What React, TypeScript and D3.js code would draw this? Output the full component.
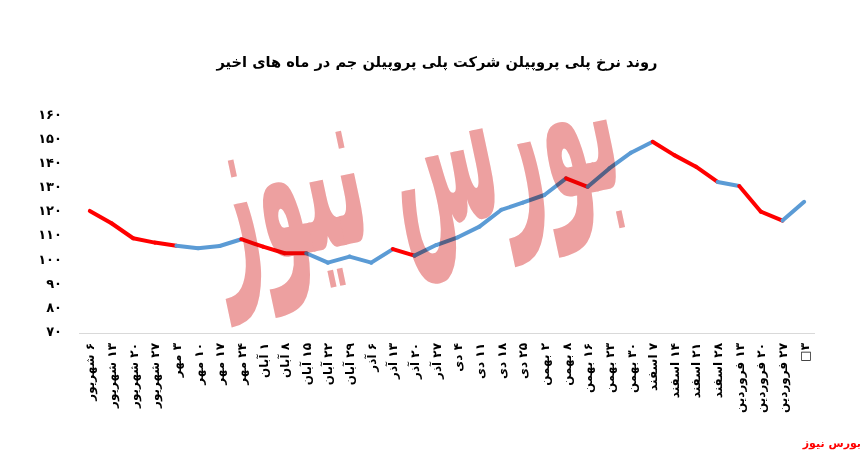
import React, { useRef, useEffect } from 'react'
import * as d3 from 'd3'

// weekly dates (Persian calendar)
const categories = [
  '۶ شهریور', '۱۳ شهریور', '۲۰ شهریور', '۲۷ شهریور',
  '۳ مهر', '۱۰ مهر', '۱۷ مهر', '۲۴ مهر',
  '۱ آبان', '۸ آبان', '۱۵ آبان', '۲۲ آبان', '۲۹ آبان',
  '۶ آذر', '۱۳ آذر', '۲۰ آذر', '۲۷ آذر',
  '۴ دی', '۱۱ دی', '۱۸ دی', '۲۵ دی',
  '۲ بهمن', '۸ بهمن', '۱۶ بهمن', '۲۳ بهمن', '۳۰ بهمن',
  '۷ اسفند', '۱۴ اسفند', '۲۱ اسفند', '۲۸ اسفند',
  '۱۳ فروردین', '۲۰ فروردین', '۲۷ فروردین', '۳□',
]

const prices = [
  120.3, 115.2, 109, 107.2, 105.9, 104.9, 105.8, 108.6,
  105.5, 102.8, 102.8, 98.9, 101.4, 98.9, 104.5, 101.8,
  106.2, 109.4, 113.8, 120.7, 123.7, 126.9, 133.8, 130.3,
  137.9, 144.4, 148.9, 143.4, 138.6, 132.3, 130.6, 120,
  116.3, 124.1,
]

// highlighted weeks: 1 = red segment, 0 = blue segment
const fallSegments = [
  1, 1, 1, 1, 0, 0, 0, 1, 1, 1, 0, 0, 0, 0, 1, 0, 0,
  0, 0, 0, 0, 0, 1, 0, 0, 0, 1, 1, 1, 0, 1, 1, 0,
]

const yTicks = [70, 80, 90, 100, 110, 120, 130, 140, 150, 160]

const title = 'روند نرخ پلی پروپیلن شرکت پلی پروپیلن جم در ماه های اخیر'
const brand = 'بورس نیوز'

const toFa = (s: string | number) => String(s).replace(/\d/g, d => '۰۱۲۳۴۵۶۷۸۹'[+d])

const W = 867
const H = 456
const FONT = '"DejaVu Sans", sans-serif'

export default function App() {
  const svgRef = useRef<SVGSVGElement>(null)

  useEffect(() => {
    if (!svgRef.current) return
    const svg = d3.select(svgRef.current)
    svg.selectAll('*').remove()

    const left = 79
    const right = 815
    const yTop = 115
    const yBottom = 332.5

    const x = d3.scaleBand().domain(categories).range([left, right])
    const y = d3.scaleLinear().domain([70, 160]).range([yBottom, yTop])
    const cx = (i: number) => (x(categories[i]) || 0) + x.bandwidth() / 2

    // title
    svg
      .append('text')
      .attr('x', 437)
      .attr('y', 63)
      .attr('text-anchor', 'middle')
      .attr('dominant-baseline', 'middle')
      .style('font-family', FONT)
      .style('font-size', '14.6px')
      .style('font-weight', 'bold')
      .style('fill', '#000')
      .text(title)

    // y axis labels
    svg
      .append('g')
      .selectAll('text')
      .data(yTicks)
      .enter()
      .append('text')
      .attr('x', 62)
      .attr('y', d => y(d))
      .attr('text-anchor', 'end')
      .attr('dominant-baseline', 'middle')
      .style('font-family', FONT)
      .style('font-size', '13px')
      .style('font-weight', 'bold')
      .text(d => toFa(d))

    // x axis line
    svg
      .append('line')
      .attr('x1', left)
      .attr('x2', right)
      .attr('y1', 333.5)
      .attr('y2', 333.5)
      .attr('stroke', '#d9d9d9')
      .attr('stroke-width', 1)

    // x labels, rotated, read from the top
    svg
      .append('g')
      .selectAll('text')
      .data(categories)
      .enter()
      .append('text')
      .attr('transform', (_d, i) => `translate(${cx(i) + 1}, 343) rotate(-90)`)
      .attr('direction', 'rtl')
      .attr('text-anchor', 'start')
      .attr('dominant-baseline', 'middle')
      .style('font-family', FONT)
      .style('font-size', '12px')
      .style('font-weight', 'bold')
      .text(d => d)

    // line segments
    const seg = svg.append('g')
    fallSegments.forEach((f, i) => {
      seg
        .append('line')
        .attr('x1', cx(i))
        .attr('y1', y(prices[i]))
        .attr('x2', cx(i + 1))
        .attr('y2', y(prices[i + 1]))
        .attr('stroke', f ? '#FF0000' : '#5B9BD5')
        .attr('stroke-width', 4)
        .attr('stroke-linecap', 'round')
    })

    // watermark
    svg
      .append('text')
      .attr('transform', 'translate(425, 228) rotate(-12) scale(1, 3)')
      .attr('text-anchor', 'middle')
      .style('font-family', FONT)
      .style('font-size', '78px')
      .style('font-weight', 'bold')
      .style('fill', '#EDA0A0')
      .style('mix-blend-mode', 'multiply')
      .text(brand)

    // brand footer
    svg
      .append('text')
      .attr('x', 861)
      .attr('y', 444)
      .attr('text-anchor', 'end')
      .attr('dominant-baseline', 'middle')
      .style('font-family', FONT)
      .style('font-size', '11px')
      .style('font-weight', 'bold')
      .style('fill', '#FF0000')
      .text(brand)
  }, [])

  return (
    <svg
      ref={svgRef}
      width={W}
      height={H}
      style={{ position: 'absolute', left: 0, top: 0, background: '#fff' }}
    />
  )
}
